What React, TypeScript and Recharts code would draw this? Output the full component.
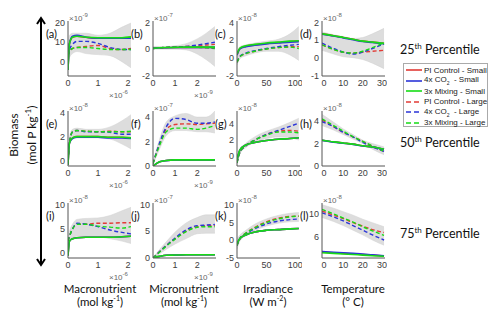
import React from 'react';
import { ComposedChart, Line, Area, XAxis, YAxis } from 'recharts';

// x samples per column (driver axis)
const macroX = [0, 0.05, 0.15, 0.3, 0.6, 1.0, 1.4, 1.8, 2.1];
const microX = [0, 0.3, 0.6, 1.0, 1.5, 2.0, 2.4, 2.8];
const irrX = [0, 5, 15, 30, 50, 70, 90, 105];
const tempX = [-1, 5, 10, 15, 20, 25, 31];

// (a) macronutrient, 25th
const aRedS = [-4, 9, 12, 12.5, 12, 11.5, 11.5, 11.5, 12];
const aBlueS = [-4, 9, 12.5, 13, 12, 11.5, 11.5, 11.5, 11.5];
const aGreenS = [-4, 9, 12, 12.5, 12, 11.8, 11.8, 11.8, 12.2];
const aRedL = [3, 5, 6.5, 7, 7.5, 8, 6.5, 6, 6.5];
const aBlueL = [3, 6, 8.5, 10, 10, 9, 7, 6, 6];
const aGreenL = [3, 5, 6.5, 7, 7, 6.5, 6, 6, 6];
const aLo = [-2, 2, 4, 5, 4, 3.5, 3, 0, -3];
const aHi = [2, 13, 14, 14, 14, 13, 14, 17, 19];

// (b) micronutrient, 25th
const bRedS = [0.02, 0.05, 0.06, 0.07, 0.08, 0.08, 0.08, 0.08];
const bBlueS = [0.02, 0.05, 0.06, 0.07, 0.08, 0.08, 0.08, 0.08];
const bGreenS = [0.02, 0.05, 0.07, 0.08, 0.1, 0.1, 0.1, 0.1];
const bRedL = [0, 0.05, 0.08, 0.1, 0.15, 0.2, 0.25, 0.3];
const bBlueL = [0, 0.05, 0.08, 0.1, 0.15, 0.25, 0.35, 0.45];
const bGreenL = [0, 0.05, 0.08, 0.1, 0.12, 0.1, 0.05, 0.0];
const bLo = [-0.05, -0.05, -0.05, -0.05, -0.1, -0.4, -0.8, -1.3];
const bHi = [0.15, 0.15, 0.15, 0.2, 0.35, 0.7, 1.1, 1.6];

// (c) irradiance, 25th
const cRedS = [0.3, 1.0, 1.25, 1.4, 1.55, 1.65, 1.75, 1.8];
const cBlueS = [0.3, 0.95, 1.2, 1.35, 1.5, 1.6, 1.7, 1.75];
const cGreenS = [0.4, 1.05, 1.3, 1.45, 1.6, 1.7, 1.8, 1.85];
const cRedL = [-0.5, 0.1, 0.45, 0.7, 0.95, 1.1, 1.2, 1.2];
const cBlueL = [-0.5, 0.15, 0.5, 0.75, 1.0, 1.2, 1.35, 1.45];
const cGreenL = [-0.5, 0.1, 0.45, 0.7, 0.95, 1.1, 1.15, 1.0];
const cLo = [-0.8, -0.1, 0.2, 0.5, 0.7, 0.7, 0.3, -0.3];
const cHi = [0.6, 1.2, 1.4, 1.6, 1.8, 2.0, 2.6, 3.4];

// (d) temperature, 25th
const dRedS = [1.3, 1.2, 1.1, 1.0, 0.9, 0.85, 0.78];
const dBlueS = [1.28, 1.18, 1.08, 0.98, 0.88, 0.83, 0.76];
const dGreenS = [1.3, 1.2, 1.1, 1.0, 0.9, 0.85, 0.78];
const dRedL = [0.7, 0.45, 0.3, 0.25, 0.3, 0.35, 0.4];
const dBlueL = [0.8, 0.5, 0.3, 0.2, 0.3, 0.5, 0.75];
const dGreenL = [0.7, 0.45, 0.3, 0.25, 0.35, 0.55, 0.8];
const dLo = [0.4, 0.2, 0.05, 0, -0.1, -0.3, -0.6];
const dHi = [1.4, 1.25, 1.15, 1.05, 1.1, 1.3, 1.6];

// (e) macronutrient, 50th
const eRedS = [-0.3, 1.5, 1.9, 2.0, 2.0, 2.0, 1.95, 1.95, 1.9];
const eBlueS = [-0.3, 1.5, 1.85, 1.95, 1.95, 1.95, 1.9, 1.9, 1.85];
const eGreenS = [-0.3, 1.5, 1.9, 2.0, 2.0, 2.0, 1.95, 1.95, 1.9];
const eRedL = [0, 1.5, 2.4, 2.5, 2.45, 2.4, 2.45, 2.4, 2.4];
const eBlueL = [0, 1.5, 2.4, 2.5, 2.4, 2.4, 2.35, 2.2, 2.2];
const eGreenL = [0, 1.5, 2.4, 2.5, 2.45, 2.4, 2.4, 2.4, 2.45];
const eLo = [-0.2, 1.3, 1.8, 1.9, 1.9, 1.9, 1.8, 1.4, 1.0];
const eHi = [0.2, 2.0, 2.6, 2.7, 2.6, 2.6, 2.8, 3.3, 3.8];

// (f) micronutrient, 50th
const fRedS = [0, 0.35, 0.45, 0.5, 0.5, 0.5, 0.5, 0.5];
const fBlueS = [0, 0.34, 0.44, 0.49, 0.49, 0.49, 0.49, 0.49];
const fGreenS = [0, 0.35, 0.45, 0.5, 0.5, 0.5, 0.5, 0.5];
const fRedL = [0.2, 1.8, 3.0, 3.4, 3.45, 3.4, 3.45, 3.5];
const fBlueL = [0.2, 1.9, 3.2, 3.9, 3.8, 3.5, 3.5, 3.6];
const fGreenL = [0.2, 1.7, 2.8, 3.1, 3.1, 3.0, 3.1, 3.3];
const fLo = [0.1, 1.4, 2.5, 2.9, 2.9, 2.8, 2.8, 2.7];
const fHi = [0.3, 2.2, 3.6, 4.1, 4.3, 4.0, 4.0, 4.5];

// (g) irradiance, 50th
const gRedS = [-0.5, 0.8, 1.4, 1.7, 1.95, 2.1, 2.2, 2.3];
const gBlueS = [-0.5, 0.8, 1.4, 1.7, 1.95, 2.1, 2.2, 2.3];
const gGreenS = [-0.5, 0.8, 1.4, 1.7, 1.95, 2.1, 2.2, 2.3];
const gRedL = [-0.8, 0.5, 1.3, 2.0, 2.7, 3.1, 3.2, 3.1];
const gBlueL = [-0.8, 0.5, 1.3, 2.0, 2.7, 3.2, 3.7, 4.1];
const gGreenL = [-0.8, 0.5, 1.3, 2.0, 2.6, 3.0, 3.0, 2.9];
const gLo = [-1.0, 0.3, 1.1, 1.7, 2.2, 2.4, 2.3, 2.0];
const gHi = [-0.3, 0.8, 1.6, 2.4, 3.1, 3.6, 4.2, 4.7];

// (h) temperature, 50th
const hRedS = [2.3, 2.15, 2.05, 1.95, 1.8, 1.7, 1.5];
const hBlueS = [2.28, 2.13, 2.03, 1.93, 1.78, 1.68, 1.48];
const hGreenS = [2.3, 2.15, 2.05, 1.95, 1.8, 1.7, 1.5];
const hRedL = [4.1, 3.5, 3.0, 2.6, 2.2, 1.75, 1.3];
const hBlueL = [3.95, 3.5, 3.0, 2.6, 2.1, 1.7, 1.3];
const hGreenL = [4.2, 3.6, 3.1, 2.6, 2.2, 1.8, 1.3];
const hLo = [3.6, 3.2, 2.8, 2.4, 2.0, 1.5, 1.0];
const hHi = [4.6, 3.9, 3.3, 2.8, 2.3, 2.0, 1.7];

// (i) macronutrient, 75th
const iRedS = [-0.5, 2.5, 3.0, 3.2, 3.3, 3.3, 3.3, 3.4, 3.5];
const iBlueS = [-0.5, 2.5, 3.0, 3.2, 3.3, 3.3, 3.3, 3.4, 3.5];
const iGreenS = [-0.5, 2.5, 3.0, 3.2, 3.3, 3.3, 3.3, 3.4, 3.5];
const iRedL = [2.5, 3.5, 5, 6.0, 6.0, 6.2, 6.2, 6.3, 6.3];
const iBlueL = [2.5, 3.5, 5, 6.2, 6.0, 5.5, 4.8, 4.3, 4.0];
const iGreenL = [2.5, 3.5, 5, 6.0, 6.0, 5.6, 5.4, 5.2, 5.5];
const iLo = [1.5, 2.8, 3.2, 3.5, 3.5, 3.4, 3.0, 2.5, 2.0];
const iHi = [3.0, 4.5, 6.0, 7.0, 7.2, 7.3, 7.8, 8.8, 9.5];

// (j) micronutrient, 75th
const jRedS = [0, 0.3, 0.5, 0.55, 0.6, 0.6, 0.6, 0.6];
const jBlueS = [0, 0.3, 0.5, 0.55, 0.6, 0.6, 0.6, 0.6];
const jGreenS = [0, 0.3, 0.5, 0.55, 0.6, 0.6, 0.6, 0.6];
const jRedL = [0, 1.2, 2.3, 3.6, 5.0, 5.8, 6.0, 6.0];
const jBlueL = [0, 1.2, 2.3, 3.7, 5.2, 6.0, 6.1, 6.2];
const jGreenL = [0, 1.1, 2.2, 3.5, 4.9, 5.7, 5.8, 5.8];
const jLo = [0, 0.8, 1.6, 2.6, 3.6, 4.5, 4.6, 4.6];
const jHi = [0, 1.6, 3.0, 4.8, 6.5, 7.5, 8.0, 8.0];

// (k) irradiance, 75th
const kRedS = [-1, 0.5, 1.5, 2.3, 2.8, 3.0, 3.2, 3.3];
const kBlueS = [-1, 0.5, 1.5, 2.3, 2.8, 3.0, 3.2, 3.3];
const kGreenS = [-1, 0.5, 1.5, 2.3, 2.8, 3.0, 3.2, 3.3];
const kRedL = [-1.5, 0.5, 2.0, 3.6, 5.2, 6.2, 6.7, 6.8];
const kBlueL = [-1.5, 0.5, 1.8, 3.2, 4.6, 5.4, 5.8, 6.0];
const kGreenL = [-1.5, 0.5, 2.0, 3.5, 5.0, 6.0, 6.6, 6.8];
const kLo = [-2.5, -0.2, 1.3, 2.7, 4.0, 4.8, 5.2, 5.3];
const kHi = [0.5, 1.5, 2.8, 4.5, 6.0, 7.0, 7.6, 7.8];

// (l) temperature, 75th
const lRedS = [3.4, 3.3, 3.2, 3.1, 3.0, 2.9, 2.75];
const lBlueS = [3.5, 3.4, 3.3, 3.2, 3.1, 2.95, 2.8];
const lGreenS = [3.3, 3.2, 3.1, 3.0, 2.9, 2.8, 2.7];
const lRedL = [10.5, 9.8, 9.2, 8.5, 7.9, 7.3, 6.8];
const lBlueL = [10.2, 9.5, 8.8, 8.0, 7.2, 6.4, 5.5];
const lGreenL = [10.8, 10.0, 9.3, 8.6, 7.8, 7.1, 6.3];
const lLo = [9.4, 8.7, 8.0, 7.2, 6.4, 5.5, 4.6];
const lHi = [11.6, 11.0, 10.4, 9.8, 9.1, 8.5, 7.8];

const legendLabels = ['PI Control - Small', '4x CO', '3x Mixing - Small', 'PI Control - Large', '4x CO', '3x Mixing - Large'];
const percentileRows = ['25', '50', '75'];
const driverNames = ['Macronutrient', 'Micronutrient', 'Irradiance', 'Temperature'];

const RED = '#e23b36';
const BLUE = '#2b35d8';
const GREEN = '#16dc16';

const colLeft = [68, 153, 237, 322];
const rowTop = [21, 111, 203];
const PW = 63;
const PH = 55;

const columns = [
  { xs: macroX, xDomain: [0, 2.1], xTicks: [0, 1, 2], xExp: '-6' },
  { xs: microX, xDomain: [0, 2.85], xTicks: [0, 1, 2], xExp: '-9' },
  { xs: irrX, xDomain: [0, 107], xTicks: [0, 50, 100], xExp: null },
  { xs: tempX, xDomain: [-1, 31.5], xTicks: [0, 10, 20, 30], xExp: null },
];

const panels = [
  { id: 'a', row: 0, col: 0, s: [aRedS, aBlueS, aGreenS, aRedL, aBlueL, aGreenL, aLo, aHi], yDomain: [-7, 20], yTicks: [0, 10, 20], yExp: '-9' },
  { id: 'b', row: 0, col: 1, s: [bRedS, bBlueS, bGreenS, bRedL, bBlueL, bGreenL, bLo, bHi], yDomain: [-2, 2], yTicks: [-2, 0, 2], yExp: '-7' },
  { id: 'c', row: 0, col: 2, s: [cRedS, cBlueS, cGreenS, cRedL, cBlueL, cGreenL, cLo, cHi], yDomain: [-2, 4], yTicks: [-2, 0, 2, 4], yExp: '-8' },
  { id: 'd', row: 0, col: 3, s: [dRedS, dBlueS, dGreenS, dRedL, dBlueL, dGreenL, dLo, dHi], yDomain: [-1, 2], yTicks: [-1, 0, 1, 2], yExp: '-8' },
  { id: 'e', row: 1, col: 0, s: [eRedS, eBlueS, eGreenS, eRedL, eBlueL, eGreenL, eLo, eHi], yDomain: [-0.4, 4.1], yTicks: [0, 2, 4], yExp: '-8' },
  { id: 'f', row: 1, col: 1, s: [fRedS, fBlueS, fGreenS, fRedL, fBlueL, fGreenL, fLo, fHi], yDomain: [0, 4.5], yTicks: [0, 2, 4], yExp: '-7' },
  { id: 'g', row: 1, col: 2, s: [gRedS, gBlueS, gGreenS, gRedL, gBlueL, gGreenL, gLo, gHi], yDomain: [-1.2, 5.6], yTicks: [0, 2, 4], yExp: '-8' },
  { id: 'h', row: 1, col: 3, s: [hRedS, hBlueS, hGreenS, hRedL, hBlueL, hGreenL, hLo, hHi], yDomain: [0, 4.9], yTicks: [0, 2, 4], yExp: '-8' },
  { id: 'i', row: 2, col: 0, s: [iRedS, iBlueS, iGreenS, iRedL, iBlueL, iGreenL, iLo, iHi], yDomain: [-1, 10.4], yTicks: [0, 5, 10], yExp: '-8' },
  { id: 'j', row: 2, col: 1, s: [jRedS, jBlueS, jGreenS, jRedL, jBlueL, jGreenL, jLo, jHi], yDomain: [0, 10.2], yTicks: [0, 5, 10], yExp: '-7' },
  { id: 'k', row: 2, col: 2, s: [kRedS, kBlueS, kGreenS, kRedL, kBlueL, kGreenL, kLo, kHi], yDomain: [-5, 10.5], yTicks: [-5, 0, 5, 10], yExp: '-8' },
  { id: 'l', row: 2, col: 3, s: [lRedS, lBlueS, lGreenS, lRedL, lBlueL, lGreenL, lLo, lHi], yDomain: [2.4, 11.9], yTicks: [4, 6, 8, 10], yExp: '-8' },
];

const seriesKeys = ['redS', 'blueS', 'greenS', 'redL', 'blueL', 'greenL'];
const tickStyle = { fontSize: 9, fill: '#404040', fontFamily: 'Liberation Sans, Arial, sans-serif' };
const labelFont = 'Lato, "Open Sans", sans-serif';

function Panel({ p }: { p: any }) {
  const c = columns[p.col];
  const data = c.xs.map((x: number, i: number) => {
    const row: any = { x, band: [p.s[6][i], p.s[7][i]] };
    seriesKeys.forEach((k, j) => (row[k] = p.s[j][i]));
    return row;
  });
  const left = colLeft[p.col];
  const top = rowTop[p.row];
  return (
    <>
      <div style={{ position: 'absolute', left: left - 30, top: top - 3 }}>
        <ComposedChart width={PW + 32} height={PH + 3 + 16} data={data} margin={{ top: 3, right: 2, bottom: 0, left: 0 }}>
          <XAxis type="number" dataKey="x" domain={c.xDomain} ticks={c.xTicks} allowDataOverflow height={16}
            tick={tickStyle} tickLine={false} tickSize={0} tickMargin={4} axisLine={{ stroke: '#555' }} />
          <YAxis type="number" domain={p.yDomain} ticks={p.yTicks} allowDataOverflow width={30}
            tick={tickStyle} tickLine={false} tickSize={0} tickMargin={3} axisLine={{ stroke: '#555' }} />
          <Area dataKey="band" type="monotone" fill="#bcbcbc" fillOpacity={0.5} stroke="#d0d0d0" strokeWidth={0.5} isAnimationActive={false} />
          <Line dataKey="redL" type="monotone" stroke={RED} strokeWidth={1.4} strokeDasharray="4 2.5" dot={false} isAnimationActive={false} />
          <Line dataKey="blueL" type="monotone" stroke={BLUE} strokeWidth={1.4} strokeDasharray="4 2.5" dot={false} isAnimationActive={false} />
          <Line dataKey="greenL" type="monotone" stroke={GREEN} strokeWidth={1.4} strokeDasharray="4 2.5" dot={false} isAnimationActive={false} />
          <Line dataKey="redS" type="monotone" stroke={RED} strokeWidth={1.6} dot={false} isAnimationActive={false} />
          <Line dataKey="blueS" type="monotone" stroke={BLUE} strokeWidth={1.6} dot={false} isAnimationActive={false} />
          <Line dataKey="greenS" type="monotone" stroke={GREEN} strokeWidth={1.6} dot={false} isAnimationActive={false} />
        </ComposedChart>
      </div>
      <div style={{ position: 'absolute', left: left - 22, top: top + 7, fontSize: 11, lineHeight: '11px', fontFamily: labelFont, color: '#111' }}>({p.id})</div>
      <div style={{ position: 'absolute', left: left + 1, top: top - 11, fontSize: 8, lineHeight: '10px', fontFamily: 'Liberation Sans, Arial', color: '#666', whiteSpace: 'nowrap' }}>
        ×10<sup style={{ fontSize: 6 }}>{p.yExp}</sup>
      </div>
      {c.xExp && (
        <div style={{ position: 'absolute', left: left + PW - 22, top: top + PH + 11, fontSize: 8, lineHeight: '10px', fontFamily: 'Liberation Sans, Arial', color: '#666', whiteSpace: 'nowrap' }}>
          ×10<sup style={{ fontSize: 6 }}>{c.xExp}</sup>
        </div>
      )}
    </>
  );
}

function Legend() {
  const colors = [RED, BLUE, GREEN, RED, BLUE, GREEN];
  return (
    <div style={{ position: 'absolute', left: 403, top: 63, width: 85, height: 64, border: '1px solid #aaa', background: '#fff', boxSizing: 'border-box' }}>
      {legendLabels.map((lab, i) => (
        <div key={i} style={{ position: 'absolute', left: 2, top: 1 + i * 10.5, height: 10, display: 'flex', alignItems: 'center', fontSize: 8, fontFamily: 'Liberation Sans, Arial', color: '#222', whiteSpace: 'nowrap' }}>
          <svg width={16} height={4} style={{ marginRight: 2 }}>
            <line x1={0} y1={2} x2={16} y2={2} stroke={colors[i]} strokeWidth={i < 3 ? 1.6 : 1.4} strokeDasharray={i < 3 ? undefined : '5 3'} />
          </svg>
          {lab === '4x CO' ? (
            <span>4x CO<sub style={{ fontSize: 5 }}>2</sub>&nbsp; - {i < 3 ? 'Small' : 'Large'}</span>
          ) : (
            <span>{lab}</span>
          )}
        </div>
      ))}
    </div>
  );
}

const unitLabels: React.ReactNode[] = [
  <span>(mol kg<sup style={{ fontSize: 7, lineHeight: 0 }}>-1</sup>)</span>,
  <span>(mol kg<sup style={{ fontSize: 7, lineHeight: 0 }}>-1</sup>)</span>,
  <span>(W m<sup style={{ fontSize: 7, lineHeight: 0 }}>-2</sup>)</span>,
  <span>(° C)</span>,
];
const driverCenters = [100, 184, 268, 353];
const percentileY = [50, 143, 234];

export default function App() {
  return (
    <div style={{ position: 'absolute', left: 0, top: 0, width: 500, height: 313, background: '#fff', overflow: 'hidden' }}>
      {panels.map((p) => (
        <Panel key={p.id} p={p} />
      ))}
      <Legend />
      {percentileRows.map((r, i) => (
        <div key={r} style={{ position: 'absolute', left: 400, top: percentileY[i] - 9, fontSize: 12.5, fontFamily: labelFont, color: '#111', whiteSpace: 'nowrap' }}>
          {r}<sup style={{ fontSize: 8 }}>th</sup> Percentile
        </div>
      ))}
      {driverNames.map((d, i) => (
        <div key={d} style={{ position: 'absolute', left: driverCenters[i] - 50, width: 100, top: 283, textAlign: 'center', fontSize: 11.5, fontFamily: labelFont, color: '#111', lineHeight: '12.5px' }}>
          <div>{d}</div>
          <div>{unitLabels[i]}</div>
        </div>
      ))}
      <div style={{ position: 'absolute', left: 21 - 60, top: 140 - 20, width: 120, height: 30, transform: 'rotate(-90deg)', textAlign: 'center', fontSize: 12, fontFamily: labelFont, color: '#111', lineHeight: '15px' }}>
        <div>Biomass</div>
        <div>(mol P kg<sup style={{ fontSize: 8 }}>-1</sup>)</div>
      </div>
      <svg style={{ position: 'absolute', left: 0, top: 0 }} width={60} height={313}>
        <line x1={41} y1={18} x2={41} y2={265} stroke="#000" strokeWidth={2} />
        <polyline points="37,24 41,18 45,24" fill="none" stroke="#000" strokeWidth={2} />
        <polyline points="37,259 41,265 45,259" fill="none" stroke="#000" strokeWidth={2} />
      </svg>
    </div>
  );
}
